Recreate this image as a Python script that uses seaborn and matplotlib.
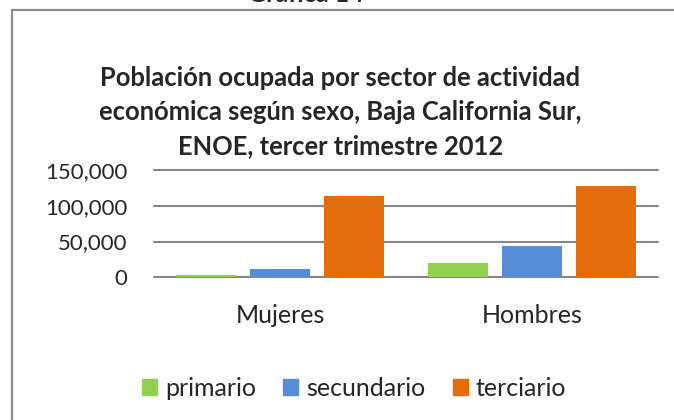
import matplotlib
matplotlib.use("Agg")
import matplotlib.pyplot as plt
import matplotlib.ticker as mticker
from matplotlib.lines import Line2D
from matplotlib.patches import Patch
import pandas as pd
import seaborn as sns

# data
sexos = ["Mujeres", "Hombres"]
sectores = ["primario", "secundario", "terciario"]
primario = [3200, 20500]
secundario = [11200, 43900]
terciario = [113000, 127000]
yticks = [0, 50000, 100000, 150000]
colores = ["#92D050", "#558ED5", "#E46C0A"]

titulo = ("Población ocupada por sector de actividad\n"
          "económica según sexo, Baja California Sur,\n"
          "ENOE, tercer trimestre 2012")

sns.set_style("white")
plt.rcParams["font.family"] = ["Lato", "DejaVu Sans"]

df = pd.DataFrame({
    "sexo": sexos * 3,
    "sector": [s for s in sectores for _ in sexos],
    "poblacion": primario + secundario + terciario,
})

fig = plt.figure(figsize=(6.74, 4.2), dpi=100)
ax = fig.add_axes([0.2285, 0.3398, 0.7478, 0.2554])

sns.barplot(data=df, x="sexo", y="poblacion", hue="sector", order=sexos,
            hue_order=sectores, palette=colores, saturation=1, width=0.88, gap=0.19,
            linewidth=0, errorbar=None, legend=False, ax=ax)

ax.set_ylim(0, 150000)
ax.set_yticks(yticks)
ax.yaxis.set_major_formatter(mticker.FuncFormatter(lambda v, p: f"{v:,.0f}"))
ax.set_axisbelow(True)
ax.yaxis.grid(True, color="#868686", lw=1.5)
for gl in ax.get_ygridlines():
    gl.set_clip_on(False)
ax.xaxis.grid(False)
for s in ax.spines.values():
    s.set_visible(False)
ax.tick_params(axis="y", length=0, pad=19, labelsize=16)
ax.tick_params(axis="x", length=0, pad=19, labelsize=18)
ax.set_xlabel("")
ax.set_ylabel("")

fig.text(0.505, 1 - 112 / 420, titulo, ha="center", va="center",
         fontsize=18.4, fontweight="bold", linespacing=1.49)

# chart frame (only left and top edges are in view)
frame_color = "#8c8c8c"
fig.add_artist(Line2D([12 / 674, 12 / 674], [0, 1 - 10 / 420],
                      transform=fig.transFigure, color=frame_color, lw=1.6))
fig.add_artist(Line2D([12 / 674, 1], [1 - 10 / 420, 1 - 10 / 420],
                      transform=fig.transFigure, color=frame_color, lw=1.6))

# caption above the frame, mostly cut off at the top edge as in the original
fig.text(306 / 674, 1 - 6 / 420, "Gráfica 14", ha="center", va="bottom",
         fontsize=18, fontweight="bold")

handles = [Patch(color=c, label=s) for c, s in zip(colores, sectores)]
fig.legend(handles=handles, loc="center", bbox_to_anchor=(354 / 674, 1 - 388 / 420),
           ncol=3, frameon=False, fontsize=18, handlelength=0.6, handleheight=0.6,
           handletextpad=0.3, columnspacing=1.1)

fig.savefig("out.png", dpi=100)
